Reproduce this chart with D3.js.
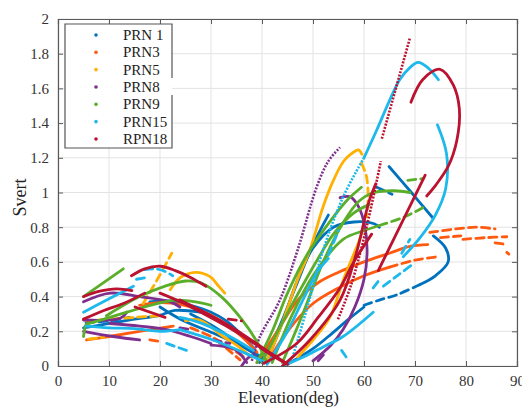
<!DOCTYPE html>
<html>
<head>
<meta charset="utf-8">
<script src="https://cdn.jsdelivr.net/npm/d3@7"></script>
<style>
  html, body { margin: 0; padding: 0; background: #fff; }
  svg { display: block; }
  svg text { font-family: "Liberation Serif", "DejaVu Serif", "Times New Roman", serif; }
</style>
</head>
<body>
<script>
// ---------------- DATA ----------------
const seriesNames = ["PRN 1", "PRN3", "PRN5", "PRN8", "PRN9", "PRN15", "RPN18"];
const xTickValues = [0, 10, 20, 30, 40, 50, 60, 70, 80, 90];
const yTickValues = [0, 0.2, 0.4, 0.6, 0.8, 1, 1.2, 1.4, 1.6, 1.8, 2];
const yTickLabels = ["0", "0.2", "0.4", "0.6", "0.8", "1", "1.2", "1.4", "1.6", "1.8", "2"];

// Each segment: list of [elevation (deg), Svert]
const prn1Solid = [
  [[5,0.22],[10,0.245],[15,0.27],[19.7,0.29],[22.9,0.32],[27.8,0.31]],
  [[18,0.37],[22,0.375],[26,0.35],[30,0.31],[33,0.26],[36,0.18],[38.5,0.1]],
  [[20,0.34],[24,0.27],[30.4,0.19],[35,0.13],[38,0.08],[40.5,0.02]],
  [[26,0.3],[31,0.22],[36,0.12],[40,0.05]],
  [[41,0.03],[44,0.25],[47,0.5],[50,0.68],[54,0.8],[58,0.83],[62,0.82],[63,0.8]],
  [[39.5,0.02],[43,0.2],[46.5,0.45],[50,0.7],[53,0.87]],
  [[45,0.01],[50,0.1],[53,0.17],[57,0.27],[60,0.34]],
  [[71,0.47],[74,0.52],[76.5,0.6],[76,0.68],[73.6,0.75]],
  [[64.9,1.15],[69,1.01],[73.6,0.85]]
];
const prn1Dash = [
  [[60,0.35],[63,0.38],[66.4,0.41],[71,0.47]],
  [[62.5,1.03],[65.5,0.99]],
  [[5.5,0.25],[10,0.26],[14,0.28]]
];
const prn1Dot = [];

const prn3Solid = [
  [[5.6,0.15],[10,0.17],[16,0.2],[22.6,0.23]],
  [[16,0.35],[20,0.365],[24,0.355],[28,0.32],[32,0.26],[36,0.17],[39,0.08]],
  [[39,0.02],[43,0.2],[47,0.38],[51,0.48],[55,0.54],[60,0.6],[65,0.65],[69,0.69],[72.5,0.7]],
  [[41,0.02],[45,0.2],[50,0.36],[55,0.45],[60,0.52],[65,0.57]]
];
const prn3Dash = [
  [[18,0.15],[20.5,0.14]],
  [[31,0.15],[33.5,0.09],[35.7,0.035]],
  [[26,0.22],[30,0.17],[34,0.1],[37,0.04]],
  [[65,0.57],[70,0.61],[74.5,0.63]],
  [[72.9,0.77],[78,0.79],[82,0.8],[85.7,0.79]],
  [[75,0.74],[79,0.75]],
  [[79.4,0.73],[84,0.74],[88,0.745]],
  [[85.7,0.71],[88,0.7]],
  [[88,0.655],[88.4,0.645]]
];
const prn3Dot = [];

const prn5Solid = [
  [[22,0.44],[24,0.51],[27,0.54],[29.8,0.515],[31.5,0.46],[32.7,0.42]],
  [[41,0.03],[44,0.25],[47,0.5],[49.4,0.67],[52,0.92],[54,1.07],[56,1.18],[57.6,1.225],[58.9,1.245],[59.6,1.22]],
  [[47,0.05],[50,0.15],[53.3,0.28],[56,0.5],[58.9,0.71],[59.5,0.76]],
  [[25,0.26],[27.8,0.265],[32.4,0.17],[35,0.12],[38,0.05]]
];
const prn5Dash = [
  [[16.7,0.36],[19.5,0.5],[22.3,0.65]],
  [[59.5,1.17],[60.5,1.09],[60.8,0.96],[60.5,0.86]],
  [[5.5,0.26],[10,0.27],[15,0.28],[20,0.29]],
  [[6,0.155],[9,0.165]]
];
const prn5Dot = [];

const prn8Solid = [
  [[5,0.37],[10.2,0.42],[16,0.4],[22,0.37],[23.9,0.34]],
  [[5,0.2],[10.8,0.17],[16,0.15]],
  [[5,0.265],[12.2,0.275],[13.5,0.31]],
  [[10.2,0.245],[16,0.23],[21.3,0.21],[26,0.17],[30,0.13]],
  [[30,0.12],[33,0.11],[35,0.09],[37,0.02]],
  [[36,0.0],[38,0.06],[40,0.02]],
  [[50,0.03],[53.5,0.12],[55.9,0.21],[58.2,0.34],[60,0.5],[60.6,0.65],[60.2,0.8],[58.9,0.92],[57.3,0.975],[55.3,0.97]]
];
const prn8Dash = [
  [[23.9,0.22],[25.9,0.21]],
  [[30.4,0.15],[33.7,0.13]],
  [[51,0.03],[52.5,0.08]]
];
const prn8Dot = [
  [[38,0.03],[39.6,0.17],[43.5,0.38],[47,0.67],[50.7,1.03],[53,1.18],[55.3,1.26]]
];

const prn9Solid = [
  [[5,0.4],[12.8,0.56]],
  [[5.5,0.24],[9,0.27],[13.5,0.31],[19.4,0.36],[23.3,0.38],[27,0.37],[30,0.35]],
  [[9.5,0.29],[16,0.4],[21,0.46],[25,0.49],[28,0.48],[32,0.4],[36,0.27],[39,0.14],[41,0.02]],
  [[39,0.02],[42,0.2],[45,0.42],[49,0.65],[53,0.82],[56.5,0.95],[59.5,1.03]],
  [[44,0.02],[48,0.3],[52,0.6],[56,0.83],[59,0.95],[62,1.0],[66,1.01],[69,1.0]],
  [[42,0.02],[46,0.3],[50,0.52],[55.9,0.73],[60,0.78],[63,0.81]],
  [[40,0.02],[44,0.25],[47.5,0.44],[51,0.62],[54,0.76],[57.9,0.88],[61,0.93]],
  [[5,0.17],[5.3,0.23]]
];
const prn9Dash = [
  [[63,0.81],[68,0.86],[72,0.92]],
  [[68.6,1.07],[71.6,1.08]]
];
const prn9Dot = [];

const prn15Solid = [
  [[5,0.31],[10.2,0.39],[14.8,0.46]],
  [[5.5,0.23],[10,0.22],[15,0.215],[20,0.2],[24,0.21]],
  [[23.9,0.21],[30.4,0.15],[37,0.07],[40.3,0.025]],
  [[23.9,0.28],[27.8,0.25],[33.7,0.17],[38.3,0.09]],
  [[60,1.2],[62.5,1.36],[65,1.53],[67,1.65],[69,1.72],[70.6,1.75],[72.5,1.72],[74.6,1.65]],
  [[74.4,1.39],[76.2,1.22],[76,1.02],[74,0.87],[71,0.74],[67.7,0.63]],
  [[44,0.0],[48,0.05],[52,0.11],[55.9,0.17],[61.8,0.31]],
  [[41,0.01],[45,0.2],[48,0.38],[51,0.55],[53,0.62]]
];
const prn15Dash = [
  [[15.4,0.5],[17.4,0.51]],
  [[17,0.555],[19,0.56],[21,0.545],[22.5,0.52]],
  [[21.3,0.13],[25.2,0.09]],
  [[61.8,0.45],[63.1,0.5]],
  [[63.8,0.46],[66.5,0.52],[69.7,0.59]],
  [[67.4,0.65],[69,0.73]],
  [[55.6,0.09],[56.9,0.035]],
  [[53,0.64],[55,0.78]]
];
const prn15Dot = [
  [[46,0.05],[49,0.35],[52,0.67],[56,0.98],[60,1.2]]
];

const rpn18Solid = [
  [[5,0.4],[8,0.43],[11.5,0.445],[14.5,0.435]],
  [[14.4,0.52],[17,0.56],[20,0.575],[23,0.55],[26,0.51],[29,0.46]],
  [[5,0.27],[9,0.32],[12.8,0.36],[17,0.42]],
  [[15.1,0.34],[21,0.28]],
  [[23.9,0.38],[33.7,0.23],[40.9,0.09],[44.8,0.015]],
  [[20,0.42],[24,0.37],[28,0.31],[33,0.23],[38,0.14],[42,0.06],[45,0.01]],
  [[40.3,0.015],[46.8,0.13],[51,0.28],[55.3,0.45],[58,0.6],[61.5,0.76]],
  [[44,0.0],[49.4,0.15],[55.3,0.38],[58.5,0.65],[61,0.95],[62.3,1.05]],
  [[62.8,0.55],[72,1.1]],
  [[69.2,1.52],[71.5,1.65],[74.9,1.71],[77.5,1.62],[78.7,1.48],[78.2,1.3],[76.5,1.15],[74,1.04],[72.3,0.98]]
];
const rpn18Dash = [
  [[33.4,0.27],[36,0.26]]
];
const rpn18Dot = [
  [[54.9,0.27],[57.5,0.47],[60.5,0.8],[63.3,1.18]],
  [[63.5,1.31],[69,1.89]]
];

// ---------------- DRAW ----------------
const colors = ["#0072BD", "#FF5A0F", "#FFB000", "#7E2F8E", "#5AAE2A", "#1DB8EC", "#BB1230"];
const series = [
  { solid: prn1Solid, dash: prn1Dash, dot: prn1Dot },
  { solid: prn3Solid, dash: prn3Dash, dot: prn3Dot },
  { solid: prn5Solid, dash: prn5Dash, dot: prn5Dot },
  { solid: prn8Solid, dash: prn8Dash, dot: prn8Dot },
  { solid: prn9Solid, dash: prn9Dash, dot: prn9Dot },
  { solid: prn15Solid, dash: prn15Dash, dot: prn15Dot },
  { solid: rpn18Solid, dash: rpn18Dash, dot: rpn18Dot }
];

const W = 522, H = 407;
const L = 58, R = 517, T = 19, B = 366;
const font = '"Liberation Serif", "DejaVu Serif", "Times New Roman", serif';

const svg = d3.select("body").append("svg").attr("width", W).attr("height", H)
  .attr("font-family", font);

const x = d3.scaleLinear().domain([0, 90]).range([L, R]);
const y = d3.scaleLinear().domain([0, 2]).range([B, T]);

// grid
const grid = svg.append("g");
grid.selectAll("line.vx").data(xTickValues).join("line")
  .attr("x1", d => x(d)).attr("x2", d => x(d)).attr("y1", T).attr("y2", B)
  .attr("stroke", "#e3e3e3").attr("stroke-width", 1);
grid.selectAll("line.hy").data(yTickValues).join("line")
  .attr("y1", d => y(d)).attr("y2", d => y(d)).attr("x1", L).attr("x2", R)
  .attr("stroke", "#e3e3e3").attr("stroke-width", 1);

// clip
svg.append("clipPath").attr("id", "clip").append("rect")
  .attr("x", L).attr("y", T).attr("width", R - L).attr("height", B - T);

const line = d3.line().x(d => x(d[0])).y(d => y(d[1])).curve(d3.curveCatmullRom.alpha(0.5));
const plot = svg.append("g").attr("clip-path", "url(#clip)");

series.forEach((s, i) => {
  const g = plot.append("g");
  g.selectAll("path.s").data(s.solid).join("path")
    .attr("d", line).attr("fill", "none").attr("stroke", colors[i])
    .attr("stroke-width", 2.8).attr("stroke-linecap", "round").attr("stroke-linejoin", "round");
  g.selectAll("path.d").data(s.dash).join("path")
    .attr("d", line).attr("fill", "none").attr("stroke", colors[i])
    .attr("stroke-width", 2.8).attr("stroke-linecap", "round")
    .attr("stroke-dasharray", "8,5");
  g.selectAll("path.o").data(s.dot).join("path")
    .attr("d", line).attr("fill", "none").attr("stroke", colors[i])
    .attr("stroke-width", 2.6).attr("stroke-linecap", "butt")
    .attr("stroke-dasharray", "2,1.4");
});

// axes box and ticks
const axisColor = "#5a5a5a";
const xAxisB = d3.axisBottom(x).tickValues(xTickValues).tickSize(-5).tickPadding(9).tickFormat(d3.format("d"));
const xAxisT = d3.axisTop(x).tickValues(xTickValues).tickSize(-5).tickFormat("");
const yAxisL = d3.axisLeft(y).tickValues(yTickValues).tickSize(-5).tickPadding(9).tickFormat((d, i) => yTickLabels[i]);
const yAxisR = d3.axisRight(y).tickValues(yTickValues).tickSize(-5).tickFormat("");

function styleAxis(g) {
  g.attr("font-family", font).attr("font-size", 15);
  g.selectAll("path").attr("stroke", axisColor).attr("stroke-width", 1.2);
  g.selectAll("line").attr("stroke", axisColor).attr("stroke-width", 1);
  g.selectAll("text").attr("fill", "#333").style("font-family", font).style("font-size", "15px");
}
svg.append("g").attr("transform", `translate(0,${B})`).call(xAxisB).call(styleAxis);
svg.append("g").attr("transform", `translate(0,${T})`).call(xAxisT).call(styleAxis);
svg.append("g").attr("transform", `translate(${L},0)`).call(yAxisL).call(styleAxis);
svg.append("g").attr("transform", `translate(${R},0)`).call(yAxisR).call(styleAxis);

// axis labels
svg.append("text").attr("x", (L + R) / 2 + 1).attr("y", 403)
  .attr("text-anchor", "middle").style("font-family", font).style("font-size", "17px").attr("fill", "#222")
  .text("Elevation(deg)");
svg.append("text").attr("transform", `translate(26,${(T + B) / 2 + 5}) rotate(-90)`)
  .attr("text-anchor", "middle").style("font-family", font).style("font-size", "18px").attr("fill", "#222")
  .text("Svert");

// legend
const lg = svg.append("g");
const lgX0 = 65, lgY0 = 24, lgX1 = 172, lgY1 = 148;
lg.append("rect").attr("x", lgX0).attr("y", lgY0).attr("width", lgX1 - lgX0).attr("height", lgY1 - lgY0)
  .attr("fill", "#fff").attr("stroke", "none");
lg.append("path")
  .attr("d", `M${lgX1},78 V${lgY0} H${lgX0} V${lgY1} H${lgX1} V95`)
  .attr("fill", "none").attr("stroke", "#555").attr("stroke-width", 1.2);
const rowY = d3.scaleLinear().domain([0, seriesNames.length - 1]).range([35, 139]);
lg.selectAll("circle").data(seriesNames).join("circle")
  .attr("cx", 96).attr("cy", (d, i) => rowY(i)).attr("r", 1.8).attr("fill", (d, i) => colors[i]);
lg.selectAll("text").data(seriesNames).join("text")
  .attr("x", 123).attr("y", (d, i) => rowY(i) + 5)
  .style("font-family", font).style("font-size", "15px").attr("fill", "#222")
  .text(d => d);
</script>
</body>
</html>
